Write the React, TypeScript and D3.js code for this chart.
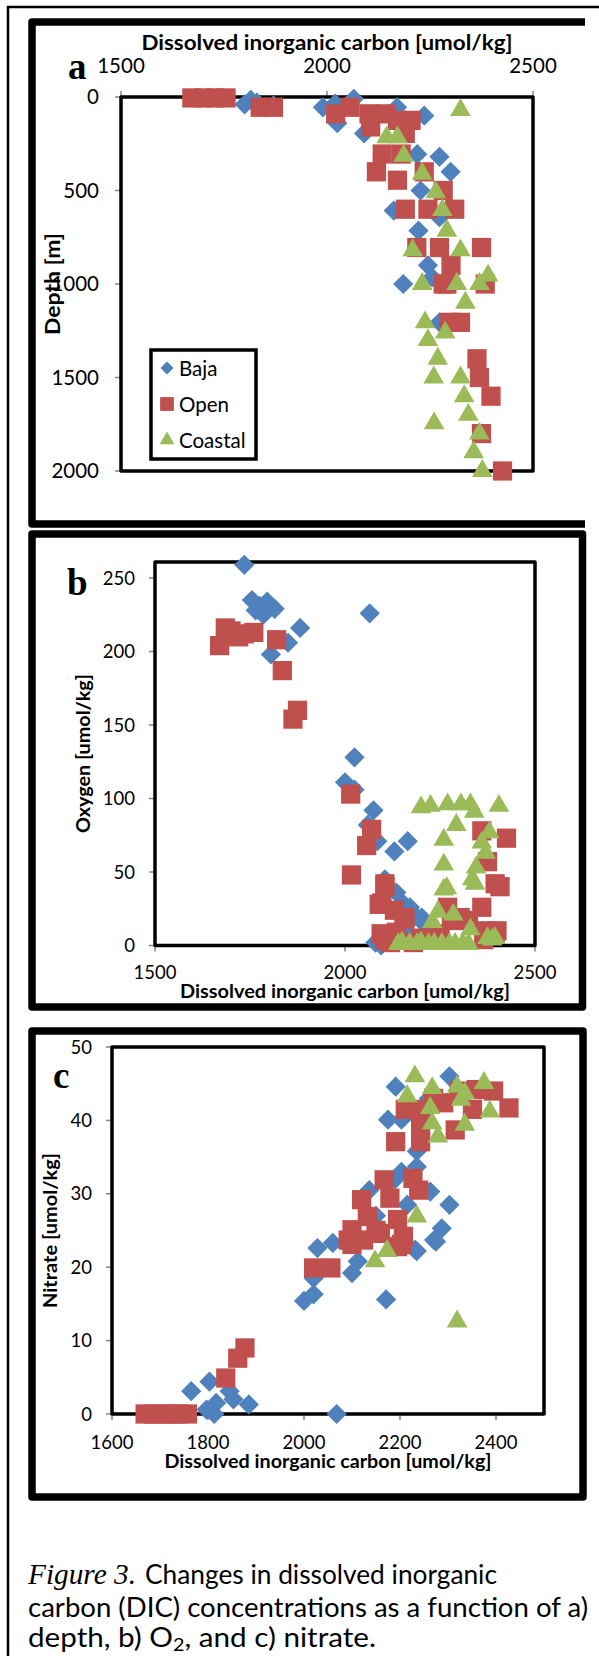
import React from 'react';
import * as d3 from 'd3';

type Pt = [number, number];

// ---- data (DIC umol/kg, second value) ----
const dicTicksAB = [1500, 2000, 2500];
const dicTicksC = [1600, 1800, 2000, 2200, 2400];
const depthTicks = [0, 500, 1000, 1500, 2000];
const oxygenTicks = [0, 50, 100, 150, 200, 250];
const nitrateTicks = [0, 10, 20, 30, 40, 50];
const seriesNames = ['Baja', 'Open', 'Coastal'];

// a) depth [m]
const bajaDepth: Pt[] = [
  [1800, 40], [1815, 15], [1830, 30], [1850, 55], [1870, 45], [1990, 55], [2020, 35], [2065, 10],
  [2025, 140], [2170, 55], [2236, 100], [2090, 195], [2273, 320], [2300, 400], [2219, 306],
  [2227, 500], [2162, 607], [2273, 643], [2222, 715], [2245, 900], [2255, 965], [2185, 1000],
  [2273, 1205],
];
const openDepth: Pt[] = [
  [1672, 5], [1700, 5], [1727, 5], [1755, 5], [1838, 55], [1870, 55], [2021, 90], [2056, 55],
  [2102, 90], [2143, 90], [2171, 125], [2204, 125], [2106, 160], [2190, 195], [2134, 305],
  [2180, 305], [2120, 400], [2171, 445], [2236, 400], [2282, 500], [2190, 600], [2245, 600],
  [2310, 600], [2218, 805], [2273, 805], [2375, 805], [2301, 900], [2291, 1000], [2282, 1000],
  [2384, 1000], [2296, 1205], [2324, 1205], [2364, 1400], [2370, 1500], [2398, 1600],
  [2375, 1800], [2426, 2000],
];
const coastalDepth: Pt[] = [
  [2324, 70], [2145, 215], [2171, 215], [2186, 315], [2231, 410], [2264, 510], [2280, 605],
  [2291, 715], [2208, 820], [2324, 820], [2231, 1000], [2315, 1000], [2370, 1000], [2391, 955],
  [2336, 1100], [2238, 1205], [2287, 1260], [2245, 1300], [2269, 1400], [2259, 1500],
  [2324, 1500], [2333, 1600], [2343, 1700], [2260, 1745], [2370, 1800], [2356, 1900],
  [2377, 2000],
];

// b) oxygen [umol/kg]
const bajaOxygen: Pt[] = [
  [1735, 259], [1755, 235], [1795, 234], [1775, 231], [1815, 229], [1785, 225], [1765, 228],
  [2065, 226], [1882, 216], [1850, 206], [1805, 198], [2025, 128], [2000, 111], [2025, 106],
  [2075, 92], [2060, 82], [2085, 71], [2165, 71], [2130, 64], [2105, 45], [2135, 36],
  [2155, 28], [2171, 26], [2185, 20], [2202, 19], [2211, 14], [2080, 2], [2095, 0], [2160, 10],
];
const openOxygen: Pt[] = [
  [1685, 216], [1700, 214], [1670, 204], [1735, 212], [1760, 213], [1720, 210], [1820, 208],
  [1835, 187], [1875, 160], [1863, 154], [2015, 103], [2070, 79], [2057, 68], [2017, 48],
  [2105, 42], [2090, 28], [2097, 29], [2105, 40], [2130, 24], [2155, 19], [2158, 18],
  [2095, 8], [2135, 9], [2105, 4], [2270, 26], [2280, 17], [2303, 19], [2325, 17], [2360, 26],
  [2360, 78], [2425, 73], [2375, 57], [2395, 42], [2408, 40], [2375, 10], [2395, 8],
  [2400, 10], [2365, 4], [2235, 4], [2180, 2], [2200, 5], [2250, 8], [2120, 2],
];
const coastalOxygen: Pt[] = [
  [2200, 94], [2225, 95], [2270, 96], [2305, 96], [2330, 96], [2340, 91], [2405, 95],
  [2293, 82], [2260, 72], [2380, 77], [2360, 70], [2370, 63], [2260, 55], [2345, 53],
  [2335, 45], [2260, 38], [2268, 39], [2342, 42], [2245, 23], [2285, 21], [2230, 16],
  [2330, 11], [2375, 5], [2395, 5], [2387, 4], [2140, 1], [2170, 1], [2190, 1], [2220, 1],
  [2235, 1], [2255, 1], [2275, 1], [2290, 1], [2310, 1], [2325, 1], [2150, 2], [2200, 2],
];

// c) nitrate [umol/kg]
const bajaNitrate: Pt[] = [
  [2191, 44.6], [2303, 46], [2175, 40.1], [2203, 40.1], [2235, 35.8], [2235, 33.7], [2203, 33],
  [2263, 30.3], [2303, 28.5], [2136, 30.5], [2215, 28.5], [2287, 25.3], [2271, 23.7],
  [2231, 22.4], [2028, 22.6], [2060, 23.3], [2020, 18.5], [2000, 15.4], [2020, 16.3],
  [2100, 19.2], [2112, 20.8], [2171, 15.6], [2235, 22.2], [2275, 23.5], [1765, 3.1],
  [1803, 4.4], [1817, 1.5], [1813, 0], [1797, 0.6], [1845, 3.1], [1853, 2], [1885, 1.3],
  [2068, 0], [2150, 27], [2190, 32], [2250, 41], [2260, 43],
];
const openNitrate: Pt[] = [
  [2211, 41.5], [2243, 41.5], [2291, 42.4], [2323, 44], [2359, 44.2], [2395, 44], [2427, 41.7],
  [2351, 41.5], [2270, 43], [2243, 39.2], [2315, 38.7], [2191, 37.1], [2243, 37.1],
  [2167, 31.9], [2227, 32.1], [2239, 30.5], [2120, 29.2], [2179, 29.4], [2132, 26.9],
  [2195, 26.5], [2100, 25.1], [2159, 24.6], [2207, 24.2], [2092, 23.7], [2124, 23.7],
  [2195, 22.8], [2203, 23.1], [2100, 23.1], [2150, 25], [2020, 19.9], [2056, 19.9],
  [1837, 4.9], [1862, 7.6], [1877, 9], [1669, 0], [1685, 0], [1705, 0], [1721, 0], [1737, 0],
  [1757, 0],
];
const coastalNitrate: Pt[] = [
  [2231, 46], [2215, 43.3], [2267, 44.4], [2319, 44.6], [2335, 43.7], [2375, 45.1],
  [2327, 42.8], [2263, 41.7], [2387, 41.2], [2267, 39.6], [2335, 39.4], [2279, 37.8],
  [2235, 26.9], [2148, 20.8], [2173, 22.2], [2319, 12.6],
];

const BLUE = '#4F81BD';
const RED = '#C0504D';
const GREEN = '#9BBB59';
const SANS = 'Lato, "Liberation Sans", sans-serif';
const SERIF = '"Liberation Serif", "Times New Roman", serif';
const AXIS_GRAY = '#868686';

type Kind = 'diamond' | 'square' | 'triangle';

const markerPath = (kind: Kind, big: boolean) => {
  if (kind === 'square') return d3.symbol(d3.symbolSquare, big ? 370 : 190)()!;
  if (kind === 'diamond') return d3.symbol(d3.symbolSquare, big ? 205 : 85)()!;
  return d3.symbol(d3.symbolTriangle, big ? 185 : 95)()!;
};

const Marker = ({ kind, x, y, color, big = true }: { kind: Kind; x: number; y: number; color: string; big?: boolean }) => (
  <path
    d={markerPath(kind, big)}
    transform={`translate(${x},${y})${kind === 'diamond' ? ' rotate(45)' : ''}`}
    fill={color}
  />
);

const kinds: Kind[] = ['diamond', 'square', 'triangle'];
const colors = [BLUE, RED, GREEN];

interface PanelProps {
  frame: { x0: number; y0: number; x1: number; y1: number; right: boolean };
  plot: { x0: number; x1: number; y0: number; y1: number };
  xDomain: [number, number];
  yDomain: [number, number];
  yRange: [number, number];
  xTicks: number[];
  yTicks: number[];
  xTop: boolean;
  xLabelY: number;
  yLabelX: number;
  fontSize: number;
  title: { cx: number; y: number; len: number };
  yTitle: { text: string; cy: number; x: number; len: number };
  letter: { text: string; x: number; y: number };
  series: Pt[][];
  legend?: boolean;
}

const Panel = (p: PanelProps) => {
  const x = d3.scaleLinear().domain(p.xDomain).range([p.plot.x0, p.plot.x1]);
  const y = d3.scaleLinear().domain(p.yDomain).range(p.yRange);
  const axisY = p.xTop ? p.plot.y0 : p.plot.y1;
  const f = p.frame;
  const framePath = f.right
    ? `M${f.x0},${f.y0}H${f.x1}V${f.y1}H${f.x0}Z`
    : `M${f.x1},${f.y0}H${f.x0}V${f.y1}H${f.x1}`;

  return (
    <g>
      <path d={framePath} fill="none" stroke="#000" strokeWidth={7.5} strokeLinejoin="round" />
      <text x={p.letter.x} y={p.letter.y} fontFamily={SERIF} fontWeight={700} fontSize={37}>
        {p.letter.text}
      </text>

      {/* ticks */}
      {p.xTicks.map((t) => (
        <line key={'xt' + t} x1={x(t)} x2={x(t)} y1={axisY} y2={p.xTop ? axisY - 6 : axisY + 6}
          stroke={AXIS_GRAY} strokeWidth={1.5} />
      ))}
      {p.yTicks.map((t) => (
        <line key={'yt' + t} x1={p.plot.x0 - 6} x2={p.plot.x0} y1={y(t)} y2={y(t)}
          stroke={AXIS_GRAY} strokeWidth={1.5} />
      ))}
      {p.xTicks.map((t) => (
        <text key={'xl' + t} x={x(t)} y={p.xLabelY} textAnchor="middle" fontFamily={SANS} fontSize={p.fontSize}>
          {t}
        </text>
      ))}
      {p.yTicks.map((t) => (
        <text key={'yl' + t} x={p.yLabelX} y={y(t)} dy="0.36em" textAnchor="end" fontFamily={SANS} fontSize={p.fontSize}>
          {t}
        </text>
      ))}

      {/* plot area border */}
      <rect x={p.plot.x0} y={p.plot.y0} width={p.plot.x1 - p.plot.x0} height={p.plot.y1 - p.plot.y0}
        fill="none" stroke="#000" strokeWidth={3.5} strokeLinejoin="round" />

      <text x={p.title.cx} y={p.title.y} textAnchor="middle" fontFamily={SANS} fontWeight={700}
        fontSize={p.fontSize} textLength={p.title.len} lengthAdjust="spacingAndGlyphs">
        Dissolved inorganic carbon [umol/kg]
      </text>
      <text transform={`translate(${p.yTitle.x},${p.yTitle.cy}) rotate(-90)`} textAnchor="middle"
        fontFamily={SANS} fontWeight={700} fontSize={p.fontSize} textLength={p.yTitle.len}
        lengthAdjust="spacingAndGlyphs">
        {p.yTitle.text}
      </text>

      {p.series.map((s, i) => (
        <g key={'s' + i}>
          {s.map((d, j) => (
            <Marker key={j} kind={kinds[i]} x={x(d[0])} y={y(d[1])} color={colors[i]} />
          ))}
        </g>
      ))}

      {p.legend && (
        <g>
          <rect x={151} y={350} width={105} height={109} fill="#fff" stroke="#000" strokeWidth={3.5} />
          {seriesNames.map((name, i) => (
            <g key={name} transform={`translate(0, ${368 + i * 36})`}>
              <Marker kind={kinds[i]} x={167} y={0} color={colors[i]} big={false} />
              <text x={179} y={7.5} fontFamily={SANS} fontSize={20.5}>{name}</text>
            </g>
          ))}
        </g>
      )}
    </g>
  );
};

export default function App() {
  return (
    <svg width={599} height={1656} style={{ position: 'absolute', left: 0, top: 0, display: 'block' }}
      xmlns="http://www.w3.org/2000/svg">
      <rect width={599} height={1656} fill="#fff" />
      <path d="M604,7H8V1662" fill="none" stroke="#000" strokeWidth={2.5} />

      <Panel
        frame={{ x0: 32, y0: 22, x1: 585, y1: 524, right: false }}
        plot={{ x0: 121, x1: 533, y0: 97, y1: 471 }}
        xDomain={[1500, 2500]} yDomain={[0, 2000]} yRange={[97, 471]}
        xTicks={dicTicksAB} yTicks={depthTicks} xTop
        xLabelY={73} yLabelX={99} fontSize={20.5}
        title={{ cx: 327, y: 50, len: 371 }}
        yTitle={{ text: 'Depth [m]', cy: 284, x: 60, len: 102 }}
        letter={{ text: 'a', x: 68, y: 79 }}
        series={[bajaDepth, openDepth, coastalDepth]}
        legend
      />

      <Panel
        frame={{ x0: 32, y0: 534, x1: 582.5, y1: 1007, right: true }}
        plot={{ x0: 155, x1: 535, y0: 562, y1: 945.5 }}
        xDomain={[1500, 2500]} yDomain={[0, 250]} yRange={[945.5, 578]}
        xTicks={dicTicksAB} yTicks={oxygenTicks} xTop={false}
        xLabelY={979} yLabelX={135} fontSize={18.5}
        title={{ cx: 345, y: 998, len: 330 }}
        yTitle={{ text: 'Oxygen [umol/kg]', cy: 753.5, x: 90, len: 159 }}
        letter={{ text: 'b', x: 67, y: 595 }}
        series={[bajaOxygen, openOxygen, coastalOxygen]}
      />

      <Panel
        frame={{ x0: 32, y0: 1031, x1: 583, y1: 1497, right: true }}
        plot={{ x0: 112, x1: 544, y0: 1047, y1: 1414 }}
        xDomain={[1600, 2500]} yDomain={[0, 50]} yRange={[1414, 1047]}
        xTicks={dicTicksC} yTicks={nitrateTicks} xTop={false}
        xLabelY={1449} yLabelX={92} fontSize={18.5}
        title={{ cx: 328, y: 1468, len: 327 }}
        yTitle={{ text: 'Nitrate [umol/kg]', cy: 1230.5, x: 57, len: 155 }}
        letter={{ text: 'c', x: 53, y: 1088 }}
        series={[bajaNitrate, openNitrate, coastalNitrate]}
      />

      {/* caption */}
      <text x={28} y={1584} fontFamily={SERIF} fontStyle="italic" fontSize={29} textLength={108}
        lengthAdjust="spacingAndGlyphs">Figure 3.</text>
      <text x={145} y={1584} fontFamily={SANS} fontSize={27} textLength={352}
        lengthAdjust="spacingAndGlyphs">Changes in dissolved inorganic</text>
      <text x={28} y={1617} fontFamily={SANS} fontSize={27} textLength={560}
        lengthAdjust="spacingAndGlyphs">carbon (DIC) concentrations as a function of a)</text>
      <text x={28} y={1647} fontFamily={SANS} fontSize={27} textLength={348}
        lengthAdjust="spacingAndGlyphs">
        depth, b) O<tspan fontSize={18} dy={4}>2</tspan><tspan dy={-4}>, and c) nitrate.</tspan>
      </text>
    </svg>
  );
}
